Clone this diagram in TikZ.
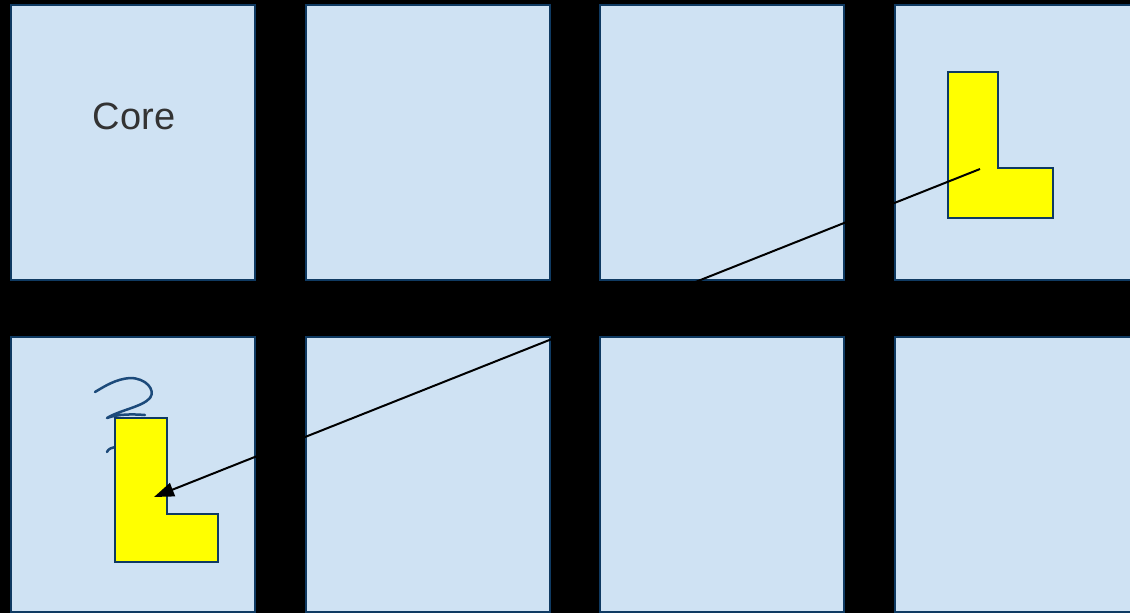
\documentclass[tikz,border=0pt]{standalone}
\usepackage{fontspec}
\setmainfont{Liberation Sans}
\usetikzlibrary{arrows.meta}
\definecolor{cellfill}{HTML}{CFE2F3}
\definecolor{cellline}{HTML}{0F3A62}
\definecolor{lfill}{HTML}{FFFF00}
\definecolor{inkblue}{HTML}{1C4A7A}
\definecolor{textgray}{HTML}{333333}
\begin{document}
\begin{tikzpicture}[x=1pt,y=-1pt,
  cell/.style={draw=cellline,line width=2pt,fill=cellfill,anchor=north west,
    minimum width=244pt,minimum height=275pt,inner sep=0pt,outer sep=0pt},
  lshape/.style={draw=cellline,line width=2pt,fill=lfill,line join=miter},
  ink/.style={draw=inkblue,line width=2.5pt,line cap=round,line join=round},
  conn/.style={draw=black,line width=2pt,-{Triangle[length=20pt,width=14pt]}}]
\useasboundingbox (0,0) rectangle (1130,613);
\fill[black] (0,0) rectangle (1130,613);
\begin{scope}
\clip (0,0) rectangle (1130,613);
% top row
\node[cell] (c11) at (11,5) {};
\node[cell] (c12) at (305.5,5) {};
\node[cell] (c13) at (599.5,5) {};
\node[cell] (c14) at (894.5,5) {};
% bottom row
\node[cell] (c21) at (11,337) {};
\node[cell] (c22) at (305.5,337) {};
\node[cell] (c23) at (599.5,337) {};
\node[cell] (c24) at (894.5,337) {};
\end{scope}
\node[text=textgray,font=\fontsize{38}{46}\selectfont,inner sep=0pt] (core) at (134,116) {Core};
% hand-drawn mark
\draw[ink] (95,392) .. controls (105,386) and (116,379) .. (130,378)
  .. controls (146,378) and (156,390) .. (150,398)
  .. controls (142,407) and (120,410) .. (107,418)
  .. controls (118,414) and (132,414) .. (145,415);
\draw[ink] (107,452) .. controls (108,449) and (112,447) .. (118,447);
% L shapes
\draw[lshape] (948,72) -- (998,72) -- (998,168) -- (1053,168) -- (1053,218) -- (948,218) -- cycle;
\draw[lshape] (115,418) -- (167,418) -- (167,514) -- (218,514) -- (218,562) -- (115,562) -- cycle;
\coordinate (ltop) at (980,169);
\coordinate (lbot) at (154,497);
\draw[conn] (ltop) -- (lbot);
\end{tikzpicture}
\end{document}
